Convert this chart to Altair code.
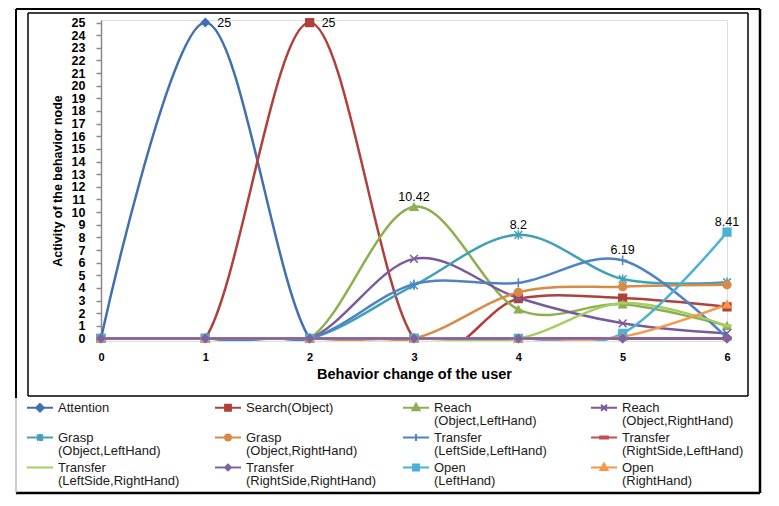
import altair as alt
import pandas as pd

# ---------------- data ----------------
x_steps = [0, 1, 2, 3, 4, 5, 6]

series_names = [
    "Attention|",
    "Search(Object)|",
    "Reach|(Object,LeftHand)",
    "Reach|(Object,RightHand)",
    "Grasp|(Object,LeftHand)",
    "Grasp|(Object,RightHand)",
    "Transfer|(LeftSide,LeftHand)",
    "Transfer|(RightSide,LeftHand)",
    "Transfer|(LeftSide,RightHand)",
    "Transfer|(RightSide,RightHand)",
    "Open|(LeftHand)",
    "Open|(RightHand)",
]

attention = [0, 25, 0, 0, 0, 0, 0]
search_object = [0, 0, 25, 0, 3.15, 3.2, 2.5]
reach_obj_left = [0, 0, 0, 10.42, 2.3, 2.7, 1.0]
reach_obj_right = [0, 0, 0, 6.3, 3.2, 1.2, 0.4]
grasp_obj_left = [0, 0, 0, 4.2, 8.2, 4.7, 4.45]
grasp_obj_right = [0, 0, 0, 0, 3.65, 4.1, 4.25]
transfer_ls_lh = [0, 0, 0, 4.3, 4.4, 6.19, 0.05]
transfer_rs_lh = [0, 0, 0, 0, 0, 0, 0]
transfer_ls_rh = [0, 0, 0, 0, 0, 2.8, 1.0]
transfer_rs_rh = [0, 0, 0, 0, 0, 0, 0]
open_left = [0, 0, 0, 0, 0, 0.4, 8.41]
open_right = [0, 0, 0, 0, 0, 0.15, 2.7]

series_values = [
    attention, search_object, reach_obj_left, reach_obj_right,
    grasp_obj_left, grasp_obj_right, transfer_ls_lh, transfer_rs_lh,
    transfer_ls_rh, transfer_rs_rh, open_left, open_right,
]

series_colors = [
    "#4070B0", "#B0403C", "#8DB04F", "#7A5A9B", "#3FA0B8", "#D98A45",
    "#4E82C4", "#C0504D", "#A8CC60", "#7F62A4", "#4BB2D4", "#F79646",
]

# marker shapes on the chart
marker_shapes = [
    "diamond", "square", "triangle-up",
    "M-1,-1L1,1M-1,1L1,-1",
    "M-1,-1L1,1M-1,1L1,-1M0,-1.2L0,1.2",
    "circle",
    "M-1.2,0L1.2,0M0,-1.2L0,1.2",
    "M-1,-0.3H1V0.3H-1Z",
    "M-1,-0.2H1V0.2H-1Z",
    "diamond", "square", "triangle-up",
]

# legend symbols: line + marker (line spans -1..3, marker centred at 1)
legend_shapes = [
    "M-1,0H3M1,-0.6L1.6,0L1,0.6L0.4,0Z",
    "M-1,0H3M0.55,-0.45H1.45V0.45H0.55Z",
    "M-1,0H3M1,-0.6L1.55,0.4H0.45Z",
    "M-1,0H3M0.55,-0.45L1.45,0.45M0.55,0.45L1.45,-0.45",
    "M-1,0H3M0.55,-0.45L1.45,0.45M0.55,0.45L1.45,-0.45M1,-0.55V0.55",
    "M-1,0H3M1.45,0A0.45,0.45,0,1,1,0.55,0A0.45,0.45,0,1,1,1.45,0Z",
    "M-1,0H3M1,-0.55V0.55",
    "M-1,0H3M0.4,-0.15H1.6V0.15H0.4Z",
    "M-1,0H3",
    "M-1,0H3M1,-0.45L1.45,0L1,0.45L0.55,0Z",
    "M-1,0H3M0.55,-0.45H1.45V0.45H0.55Z",
    "M-1,0H3M1,-0.6L1.55,0.4H0.45Z",
]

label_x = [1, 2, 3, 4, 5, 6]
label_y = [25, 25, 10.42, 8.2, 6.19, 8.41]
label_text = ["25", "25", "10.42", "8.2", "6.19", "8.41"]
label_place = ["right", "right", "above", "above", "above", "above"]

# ---------------- tables ----------------
draw_order = [0, 1, 2, 3, 4, 5, 6, 7, 8, 10, 11, 9]
rows = []
for i in draw_order:
    for xv, yv in zip(x_steps, series_values[i]):
        rows.append({"step": xv, "value": yv, "series": series_names[i], "z": draw_order.index(i)})
df = pd.DataFrame(rows)

labels_df = pd.DataFrame({"step": label_x, "value": label_y, "text": label_text, "place": label_place})

FONT = "Liberation Sans"
W, H = 626, 321

xscale = alt.Scale(domain=[0, 6], nice=False, zero=False)
yscale = alt.Scale(domain=[-0.2, 25.2], nice=False, zero=False)

x_axis = alt.Axis(
    values=x_steps, format="d", domain=False, ticks=False, grid=False, labelFlush=False,
    labelFont=FONT, labelFontSize=11, labelFontWeight="bold", labelColor="black",
    labelPadding=10, title="Behavior change of the user", titleFont=FONT,
    titleFontSize=14.5, titleFontWeight="bold", titleColor="black", titlePadding=5)
y_axis = alt.Axis(
    values=list(range(26)), format="d", grid=False, labelFlush=False, labelOverlap=False,
    tickSize=5, tickColor="#8a8a8a", tickWidth=1.5, domainColor="#8a8a8a", domainWidth=1.5,
    labelFont=FONT, labelFontSize=12.5, labelFontWeight="bold", labelColor="black",
    labelPadding=11, title="Activity of the behavior node", titleFont=FONT,
    titleFontSize=12.5, titleFontWeight="bold", titleColor="black", titlePadding=7)

x_enc = alt.X("step:Q", scale=xscale, axis=x_axis)
y_enc = alt.Y("value:Q", scale=yscale, axis=y_axis)

lines = alt.Chart(df).mark_line(interpolate="cardinal", strokeWidth=2.5, clip=True).encode(
    x=x_enc, y=y_enc,
    color=alt.Color("series:N", scale=alt.Scale(domain=series_names, range=series_colors), legend=None),
    detail="series:N",
)

points = alt.Chart(df).mark_point(filled=True, size=60, strokeWidth=1.5, opacity=1).encode(
    x=x_enc, y=y_enc,
    fill=alt.Fill("series:N", scale=alt.Scale(domain=series_names, range=series_colors), legend=None),
    stroke=alt.Stroke("series:N", scale=alt.Scale(domain=series_names, range=series_colors), legend=None),
    shape=alt.Shape("series:N", scale=alt.Scale(domain=series_names, range=marker_shapes), legend=None),
    order=alt.Order("z:Q"),
)

legend_props = dict(
    orient="none", direction="horizontal", legendX=-75, legendY=380, columns=4, title=None,
    labelExpr="split(datum.label, '|')", labelFont=FONT, labelFontSize=13,
    labelColor="#1a1a1a", labelLimit=400, labelOffset=17, labelBaseline="middle",
    symbolSize=169, symbolStrokeWidth=2, gridAlign="all", columnPadding=22,
    rowPadding=1, padding=0,
)
legend_layer = alt.Chart(df).transform_filter("datum.step < -100").mark_point(
    filled=True, strokeWidth=2, opacity=1).encode(
    x=x_enc, y=y_enc,
    fill=alt.Fill("series:N", scale=alt.Scale(domain=series_names, range=series_colors),
                  legend=alt.Legend(**legend_props)),
    stroke=alt.Stroke("series:N", scale=alt.Scale(domain=series_names, range=series_colors),
                      legend=alt.Legend(**legend_props)),
    shape=alt.Shape("series:N", scale=alt.Scale(domain=series_names, range=legend_shapes),
                    legend=alt.Legend(**legend_props)),
)

text_right = alt.Chart(labels_df).transform_filter("datum.place == 'right'").mark_text(
    align="left", baseline="middle", dx=12, font=FONT, fontSize=12.5, color="black").encode(
    x=x_enc, y=y_enc, text="text:N")
text_above = alt.Chart(labels_df).transform_filter("datum.place == 'above'").mark_text(
    align="center", baseline="middle", dy=-10, font=FONT, fontSize=12.5, color="black").encode(
    x=x_enc, y=y_enc, text="text:N")

# decorative frames (plot origin is at page (101, 20))
one = pd.DataFrame({"k": [0]})
def frame_rule(x1, y1, x2, y2, width, color="black"):
    return alt.Chart(one).mark_rule(stroke=color, strokeWidth=width).encode(
        x=alt.value(x1), y=alt.value(y1), x2=alt.value(x2), y2=alt.value(y2))

frames = [
    # outer frame
    frame_rule(-85, -11, 659, -11, 2),
    frame_rule(659, -11, 659, 473, 2.5),
    frame_rule(-85, 473, 659, 473, 2.5),
    frame_rule(-85, -11, -85, 378, 2),
    frame_rule(-85, 378, -85, 473, 1, "#9a9a9a"),
    # inner box
    frame_rule(-73, -7, 647, -7, 1.5),
    frame_rule(647, -7, 647, 376, 1.5),
    frame_rule(-73, 376, 647, 376, 1.5),
    frame_rule(-73, -7, -73, 376, 1.5),
]

chart = alt.layer(*frames, lines, points, legend_layer, text_right, text_above).resolve_scale(
    fill="independent", stroke="independent", shape="independent"
).properties(
    width=W, height=H,
    autosize=alt.AutoSizeParams(type="none"),
    padding={"left": 93, "top": 12, "right": 40, "bottom": 158},
    background="white",
).configure_view(stroke=None).configure(style={"guide-label": {"lineHeight": 13}})

chart.save("out.html", embed_options={"renderer": "svg", "actions": False})
